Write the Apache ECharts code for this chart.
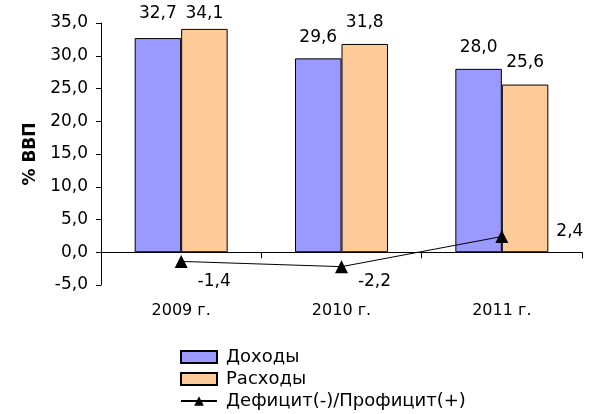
<!DOCTYPE html>
<html>
<head>
<meta charset="utf-8">
<script src="https://cdn.jsdelivr.net/npm/echarts@6/dist/echarts.min.js"></script>
<style>
  html, body { margin: 0; padding: 0; background: #fff; }
  #chart { width: 593px; height: 414px; }
</style>
</head>
<body>
<div id="chart"></div>
<script>
var years = ['2009 г.', '2010 г.', '2011 г.'];
var revenue = [32.7, 29.6, 28.0];
var spending = [34.1, 31.8, 25.6];
var balance = [-1.4, -2.2, 2.4];

function fmt(v) { return Number(v).toFixed(1).replace('.', ','); }
function lbl(p) { return fmt(p.value); }

var font = 'DejaVu Sans, sans-serif';
// hand-placed label offsets, like in the source chart
var lineLabelOffsets = [[33, 20], [33, 15], [68, -5]];
var revenueLabelDist = [16, 12, 13];
var spendingLabelDist = [7, 13, 13];

var chart = echarts.init(document.getElementById('chart'));
var option = {
  animation: false,
  backgroundColor: '#fff',
  textStyle: { fontFamily: font, color: '#000' },
  grid: { left: 101, right: 11, top: 23, bottom: 129 },
  legend: {
    orient: 'vertical',
    left: 175,
    top: 343,
    height: 80,
    itemWidth: 36,
    itemHeight: 12,
    itemGap: 4,
    textStyle: { fontSize: 18, fontFamily: font, color: '#000', padding: [0, 0, 0, 4] },
    data: [
      { name: 'Доходы', icon: 'rect' },
      { name: 'Расходы', icon: 'rect' },
      { name: 'Дефицит(-)/Профицит(+)' }
    ]
  },
  xAxis: [{
    type: 'category',
    data: years,
    axisLine: { onZero: true, lineStyle: { color: '#000', width: 1 } },
    axisTick: { show: true, inside: false, length: 6, lineStyle: { color: '#000' } },
    axisLabel: { show: false }
  }, {
    type: 'category',
    data: years,
    position: 'bottom',
    axisLine: { show: false, onZero: false },
    axisTick: { show: false },
    axisLabel: { margin: 18, fontSize: 16, fontFamily: font, color: '#000' }
  }],
  yAxis: {
    type: 'value',
    min: -5,
    max: 35,
    interval: 5,
    name: '% ВВП',
    nameLocation: 'middle',
    nameGap: 57,
    nameTextStyle: { fontSize: 17, fontWeight: 'bold', fontFamily: font, color: '#000' },
    axisLine: { show: true, lineStyle: { color: '#000' } },
    axisTick: { show: true, length: 5, lineStyle: { color: '#000' } },
    splitLine: { show: false },
    axisLabel: { margin: 13, fontSize: 17, fontFamily: font, color: '#000', formatter: fmt }
  },
  series: [{
    name: 'Доходы',
    type: 'bar',
    data: revenue.map(function (v, i) {
      return { value: v, label: { distance: revenueLabelDist[i] } };
    }),
    barGap: '0%',
    barCategoryGap: '42%',
    itemStyle: { color: '#9999FF', borderColor: '#000', borderWidth: 1 },
    label: { show: true, position: 'top', fontSize: 17, fontFamily: font, color: '#000', formatter: lbl }
  }, {
    name: 'Расходы',
    type: 'bar',
    data: spending.map(function (v, i) {
      return { value: v, label: { distance: spendingLabelDist[i] } };
    }),
    itemStyle: { color: '#FFCC99', borderColor: '#000', borderWidth: 1 },
    label: { show: true, position: 'top', fontSize: 17, fontFamily: font, color: '#000', formatter: lbl }
  }, {
    name: 'Дефицит(-)/Профицит(+)',
    type: 'line',
    data: balance.map(function (v, i) {
      return { value: v, label: { offset: lineLabelOffsets[i] } };
    }),
    symbol: 'triangle',
    symbolSize: 13,
    lineStyle: { color: '#000', width: 1 },
    itemStyle: { color: '#000' },
    label: { show: true, position: 'inside', fontSize: 17, fontFamily: font, color: '#000', formatter: lbl }
  }]
};
chart.setOption(option);
</script>
</body>
</html>
